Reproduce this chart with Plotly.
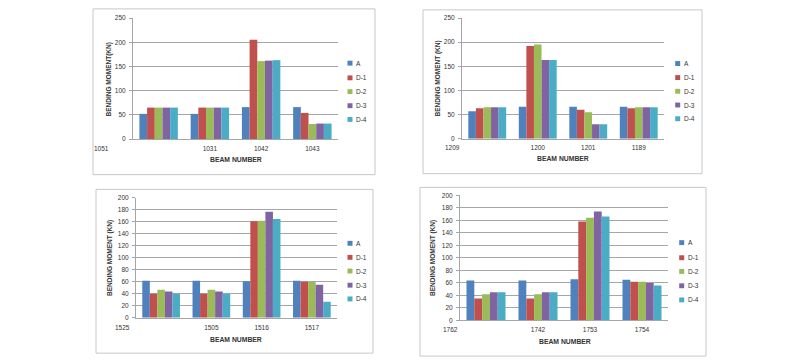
import plotly.graph_objects as go

series_names = ["A", "D-1", "D-2", "D-3", "D-4"]
colors = ["#4F81BD", "#C0504D", "#9BBB59", "#8064A2", "#4BACC6"]

# Panel 1
p1_labels = ["1051", "1031", "1042", "1043"]
p1_A = [52, 52, 66, 66]
p1_D1 = [65, 65, 205, 54]
p1_D2 = [65, 65, 161, 31]
p1_D3 = [65, 65, 162, 32]
p1_D4 = [65, 65, 163, 32]

# Panel 2
p2_labels = ["1209", "1200", "1201", "1189"]
p2_A = [57, 66, 66, 66]
p2_D1 = [63, 192, 60, 63]
p2_D2 = [65, 195, 55, 65]
p2_D3 = [65, 163, 30, 65]
p2_D4 = [65, 163, 30, 65]

# Panel 3
p3_labels = ["1525", "1505", "1516", "1517"]
p3_A = [62, 62, 61, 62]
p3_D1 = [40, 40, 161, 60]
p3_D2 = [47, 47, 162, 60]
p3_D3 = [44, 44, 177, 55]
p3_D4 = [40, 40, 165, 27]

# Panel 4
p4_labels = ["1762", "1742", "1753", "1754"]
p4_A = [64, 64, 66, 65]
p4_D1 = [35, 35, 158, 62]
p4_D2 = [42, 42, 164, 62]
p4_D3 = [45, 45, 174, 60]
p4_D4 = [45, 45, 166, 56]

panels = [
    dict(labels=p1_labels, data=[p1_A, p1_D1, p1_D2, p1_D3, p1_D4], ymax=250, dtick=50,
         xdom=[133, 338], ytop=14.3, ybot=137.7, first_x=-1.11,
         ytitle="BENDING MOMENT(KN)", ytx=109, yty=77, xtx=236, xty=159,
         box=[93, 5, 375, 174], legx=350, legy=[60.3, 75.3, 89.3, 103.7, 117.7]),
    dict(labels=p2_labels, data=[p2_A, p2_D1, p2_D2, p2_D3, p2_D4], ymax=250, dtick=50,
         xdom=[462, 664], ytop=14.3, ybot=137.3, first_x=-0.68,
         ytitle="BENDING MOMENT (KN)", ytx=438, yty=76, xtx=563, xty=158,
         box=[423, 6, 702, 173], legx=677.7, legy=[60.7, 75, 89, 103, 117]),
    dict(labels=p3_labels, data=[p3_A, p3_D1, p3_D2, p3_D3, p3_D4], ymax=200, dtick=20,
         xdom=[136, 337], ytop=197.7, ybot=320, first_x=-0.76,
         ytitle="BENDING MOMENT (KN)", ytx=110, yty=259, xtx=236, xty=342,
         box=[96, 189, 373, 356], legx=350, legy=[244, 258.3, 272.3, 286.7, 300.7]),
    dict(labels=p4_labels, data=[p4_A, p4_D1, p4_D2, p4_D3, p4_D4], ymax=200, dtick=20,
         xdom=[460, 668], ytop=195, ybot=322.7, first_x=-0.69,
         ytitle="BENDING MOMENT (KN)", ytx=433, yty=259, xtx=565, xty=344,
         box=[420, 187, 706, 359], legx=681.7, legy=[243.3, 258.7, 272.7, 287.3, 301.7]),
]

W, H = 800, 364
FONT = "Liberation Sans"
TXT = "#333333"
GRID = "#A6A6A6"
TICKSIZE = 6.5

fig = go.Figure()
shapes = []
annotations = []
layout = {}

for i, p in enumerate(panels):
    n = i + 1
    xa = "x" if n == 1 else f"x{n}"
    ya = "y" if n == 1 else f"y{n}"
    xkey = "xaxis" if n == 1 else f"xaxis{n}"
    ykey = "yaxis" if n == 1 else f"yaxis{n}"
    xpos = list(range(len(p["labels"])))
    for s, name in enumerate(series_names):
        fig.add_trace(go.Bar(x=xpos, y=p["data"][s], name=name, marker_color=colors[s],
                             marker_line_width=0, xaxis=xa, yaxis=ya, showlegend=False))
    layout[xkey] = dict(
        domain=[p["xdom"][0] / W, p["xdom"][1] / W], anchor=ya, range=[-0.5, 3.5],
        tickvals=xpos[1:], ticktext=p["labels"][1:], showgrid=False, zeroline=False,
        showline=True, linecolor=GRID, linewidth=1, ticks="", ticklabelstandoff=3,
        tickfont=dict(family=FONT, size=TICKSIZE, color=TXT), fixedrange=True)
    layout[ykey] = dict(
        domain=[1 - p["ybot"] / H, 1 - p["ytop"] / H], anchor=xa, range=[0, p["ymax"]],
        dtick=p["dtick"], showgrid=True, gridcolor=GRID, gridwidth=1, zeroline=False,
        showline=True, linecolor=GRID, linewidth=1, ticks="outside", ticklen=3,
        ticklabelstandoff=2,
        tickcolor=GRID, tickfont=dict(family=FONT, size=TICKSIZE, color=TXT), fixedrange=True)
    # first category label sits at the far left of the axis, as in the reference
    annotations.append(dict(x=(p["first_x"] + 0.5) / 4, xref=f"{xa} domain",
                            y=1 - (p["ybot"] + 9.5) / H, yref="paper",
                            xanchor="center", yanchor="middle",
                            text=p["labels"][0], showarrow=False,
                            font=dict(family=FONT, size=TICKSIZE, color=TXT)))
    annotations.append(dict(x=p["xtx"] / W, y=1 - p["xty"] / H, xref="paper", yref="paper",
                            xanchor="center", yanchor="middle",
                            text="<b>BEAM NUMBER</b>", showarrow=False,
                            font=dict(family=FONT, size=6.8, color=TXT)))
    annotations.append(dict(x=p["ytx"] / W, y=1 - p["yty"] / H, xref="paper", yref="paper",
                            xanchor="center", yanchor="middle",
                            text="<b>" + p["ytitle"] + "</b>", showarrow=False, textangle=-90,
                            font=dict(family=FONT, size=6.5, color=TXT)))
    bx0, by0, bx1, by1 = p["box"]
    shapes.append(dict(type="rect", xref="paper", yref="paper", x0=bx0 / W, x1=bx1 / W,
                       y0=1 - by1 / H, y1=1 - by0 / H, line=dict(color="#C8C8C8", width=1),
                       fillcolor="rgba(0,0,0,0)", layer="below"))
    for s, name in enumerate(series_names):
        cy = p["legy"][s]
        cx = p["legx"]
        shapes.append(dict(type="rect", xref="paper", yref="paper",
                           x0=(cx - 2.5) / W, x1=(cx + 2.5) / W,
                           y0=1 - (cy + 2.5) / H, y1=1 - (cy - 2.5) / H,
                           line=dict(width=0), fillcolor=colors[s]))
        annotations.append(dict(x=(cx + 4) / W, y=1 - cy / H, xref="paper", yref="paper",
                                text=name, showarrow=False, xanchor="left", yanchor="middle",
                                font=dict(family=FONT, size=6.5, color=TXT)))

fig.update_layout(
    width=W, height=H, margin=dict(l=0, r=0, t=0, b=0),
    paper_bgcolor="white", plot_bgcolor="white",
    barmode="group", bargap=0.25, bargroupgap=0,
    shapes=shapes, annotations=annotations, showlegend=False,
    **layout)

fig.write_html("out.html", config={"displayModeBar": False},
               post_script="document.body.style.margin='0';document.body.style.overflow='hidden';")
